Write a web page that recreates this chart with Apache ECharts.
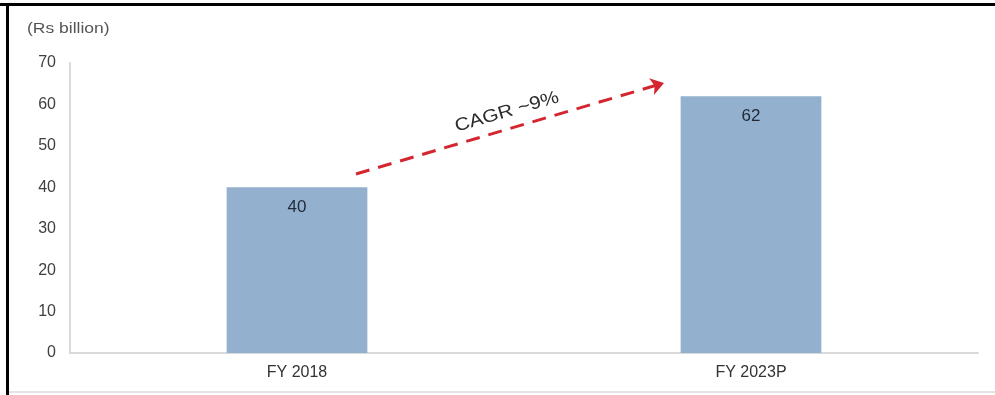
<!DOCTYPE html>
<html>
<head>
<meta charset="utf-8">
<script src="https://cdn.jsdelivr.net/npm/echarts@6/dist/echarts.min.js"></script>
<style>
  html, body { margin: 0; padding: 0; background: #ffffff; }
  #chart { width: 995px; height: 395px; }
</style>
</head>
<body>
<div id="chart"></div>
<script>
// Market size, Rs billion
const categories = ['FY 2018', 'FY 2023P'];
const values = [40, 62];
const yTicks = [0, 10, 20, 30, 40, 50, 60, 70];
const unitLabel = '(Rs billion)';
const growthLabel = 'CAGR ~9%';

const chart = echarts.init(document.getElementById('chart'), null, { renderer: 'canvas' });

const font = '"Liberation Sans", Arial, sans-serif';

chart.setOption({
  animation: false,
  backgroundColor: '#ffffff',
  grid: { left: 70, right: 17, top: 63, bottom: 42 },
  xAxis: {
    type: 'category',
    data: categories,
    axisLine: { lineStyle: { color: '#d9d9d9', width: 2 } },
    axisTick: { show: false },
    axisLabel: { color: '#333333', fontSize: 16, fontFamily: font, margin: 12 }
  },
  yAxis: {
    type: 'value',
    min: yTicks[0],
    max: yTicks[yTicks.length - 1],
    interval: 10,
    axisLine: { show: true, lineStyle: { color: '#d9d9d9', width: 2 } },
    axisTick: { show: false },
    splitLine: { show: false },
    axisLabel: { color: '#404040', fontSize: 16, fontFamily: font, margin: 14 }
  },
  series: [{
    type: 'bar',
    data: values,
    barWidth: '31%',
    itemStyle: { color: '#93b1cf' },
    label: {
      show: true,
      position: 'insideTop',
      distance: 12,
      color: '#1f2a36',
      fontSize: 17,
      fontFamily: font
    },
    markLine: {
      silent: true,
      symbol: ['none', 'arrow'],
      symbolSize: [13, 13],
      lineStyle: { color: '#d42630', width: 3, type: [14, 9] },
      label: { show: false },
      data: [[{ x: 356, y: 174 }, { x: 664, y: 83 }]]
    }
  }],
  graphic: [
    {
      type: 'text',
      x: 27,
      y: 29,
      scaleX: 1.25,
      style: { text: unitLabel, fill: '#555555', fontSize: 14, fontFamily: font, verticalAlign: 'middle' }
    },
    {
      type: 'text',
      x: 507,
      y: 112,
      rotation: 0.283,
      scaleX: 1.15,
      style: {
        text: growthLabel,
        fill: '#2b2b2b',
        fontSize: 18,
        fontFamily: font,
        align: 'center',
        verticalAlign: 'middle'
      }
    },
    // frame edges
    { type: 'rect', shape: { x: 0, y: 3, width: 995, height: 3 }, style: { fill: '#000000' } },
    { type: 'rect', shape: { x: 6, y: 3, width: 3, height: 392 }, style: { fill: '#000000' } },
    { type: 'rect', shape: { x: 9, y: 391, width: 986, height: 2 }, style: { fill: '#e4e4e4' } }
  ]
});
</script>
</body>
</html>
